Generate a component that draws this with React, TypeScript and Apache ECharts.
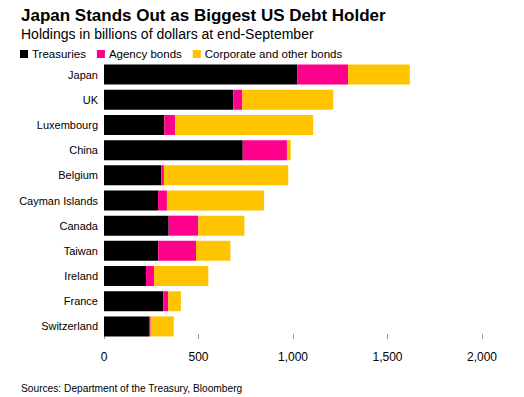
import React, { useEffect, useRef } from "react";
import * as echarts from "echarts";

const countries = ["Japan", "UK", "Luxembourg", "China", "Belgium", "Cayman Islands", "Canada", "Taiwan", "Ireland", "France", "Switzerland"];
const treasuries = [1022, 684, 319, 734, 303, 286, 342, 287, 222, 314, 238];
const agency = [270, 48, 58, 234, 14, 47, 157, 200, 43, 26, 9];
const corporate = [326, 481, 730, 20, 658, 514, 244, 182, 287, 67, 122];
const xTicks = [0, 500, 1000, 1500, 2000];

const FONT = "Liberation Sans, Arial, sans-serif";

export default function App() {
  const ref = useRef<HTMLDivElement>(null);
  useEffect(() => {
    const chart = echarts.init(ref.current!, null, { renderer: "svg" });
    const mk = (name: string, data: number[], color: string) => ({
      name,
      type: "bar",
      stack: "total",
      data,
      barWidth: 20,
      itemStyle: { color },
      emphasis: { disabled: true },
    });
    chart.setOption({
      animation: false,
      textStyle: { fontFamily: FONT },
      title: [
        {
          text: "Japan Stands Out as Biggest US Debt Holder",
          left: 16,
          top: 2,
          textStyle: { fontSize: 17, fontWeight: "bold", color: "#000", fontFamily: FONT },
        },
        {
          text: "Holdings in billions of dollars at end-September",
          left: 16,
          top: 22,
          textStyle: { fontSize: 14, fontWeight: "normal", color: "#000", fontFamily: FONT },
        },
        {
          text: "Sources: Department of the Treasury, Bloomberg",
          left: 16,
          top: 378,
          textStyle: { fontSize: 10.2, fontWeight: "normal", color: "#000", fontFamily: FONT },
        },
      ],
      legend: {
        left: 15,
        top: 43,
        icon: "rect",
        itemWidth: 8,
        itemHeight: 8,
        itemGap: 11,
        textStyle: { fontSize: 11.5, color: "#000", fontFamily: FONT, padding: [0, 0, 0, -1] },
        data: ["Treasuries", "Agency bonds", "Corporate and other bonds"],
      },
      grid: { left: 104, right: 42, top: 62, bottom: 58 },
      xAxis: {
        type: "value",
        min: 0,
        max: 2000,
        interval: 500,
        splitLine: { show: false },
        axisLine: { show: false },
        axisTick: { show: true, inside: true, length: 5, lineStyle: { color: "#999" } },
        axisLabel: {
          fontSize: 12,
          color: "#000",
          margin: 12,
          formatter: (v: number) => (xTicks.includes(v) ? v.toLocaleString("en-US") : ""),
        },
      },
      yAxis: {
        type: "category",
        inverse: true,
        data: countries,
        axisLine: { show: false },
        axisTick: { show: false },
        axisLabel: { fontSize: 11, color: "#000", margin: 6 },
      },
      series: [
        mk("Treasuries", treasuries, "#000000"),
        mk("Agency bonds", agency, "#ff008c"),
        mk("Corporate and other bonds", corporate, "#ffc400"),
      ],
    });
    return () => chart.dispose();
  }, []);
  return <div ref={ref} style={{ width: 524, height: 397, position: "absolute", left: 0, top: 0 }} />;
}
